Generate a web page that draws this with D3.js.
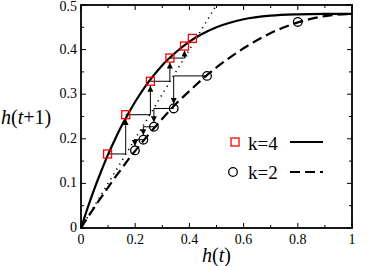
<!DOCTYPE html>
<html><head><meta charset="utf-8">
<script src="https://cdn.jsdelivr.net/npm/d3@7"></script>
<style>body{margin:0;background:#fff}svg{display:block}
text{font-family:"Liberation Serif","LiberationSerif","DejaVu Serif","DejaVuSerif",Times,"Noto Serif",serif;}</style>
</head><body>
<script>
// ---- data ----
const curveX = [0,0.025,0.05,0.075,0.1,0.125,0.15,0.175,0.2,0.25,0.3,0.35,0.4,0.45,0.5,0.6,0.7,0.8,0.9,1.0];
const k4Y   = [0,0.046,0.089,0.128,0.165,0.198,0.229,0.257,0.283,0.328,0.365,0.394,0.418,0.436,0.450,0.468,0.476,0.479,0.480,0.480];
const k2Y   = [0,0.024,0.047,0.069,0.091,0.113,0.133,0.154,0.173,0.210,0.245,0.278,0.307,0.335,0.360,0.403,0.437,0.461,0.475,0.480];
const diagX = [0,0.5];
const diagY = [0,0.5];
const sqX = [0.098,0.165,0.256,0.328,0.382,0.411];
const sqY = [0.166,0.254,0.329,0.381,0.408,0.425];
const ciX = [0.465,0.342,0.269,0.230,0.199];
const ciY = [0.341,0.268,0.227,0.198,0.174];
const ciExtraX = [0.80];
const ciExtraY = [0.462];
const xTicks = [0,0.2,0.4,0.6,0.8,1];
const xTickLabels = ["0","0.2","0.4","0.6","0.8","1"];
const yTicks = [0,0.1,0.2,0.3,0.4,0.5];
const yTickLabels = ["0","0.1","0.2","0.3","0.4","0.5"];
const legendLabels = ["k=4","k=2"];

const W=382,H=266;
const m={l:81,r:30,t:5,b:38};
const svg=d3.select("body").append("svg").attr("width",W).attr("height",H);
const x=d3.scaleLinear().domain([0,1]).range([m.l,W-m.r]);
const y=d3.scaleLinear().domain([0,0.5]).range([H-m.b,m.t]);

svg.append("defs").append("marker").attr("id","ah").attr("viewBox","0 0 10 10")
 .attr("refX",10).attr("refY",5).attr("markerWidth",6).attr("markerHeight",6)
 .attr("markerUnits","userSpaceOnUse").attr("orient","auto")
 .append("path").attr("d","M0,0L10,5L0,10z").attr("fill","#000");

const g=svg.append("g");
const xMinor=d3.range(0,1.0001,0.1), yMinor=d3.range(0,0.5001,0.05);
function isMajor(v,step){return Math.abs(v/step-Math.round(v/step))<1e-6;}
xMinor.forEach(v=>{const L=isMajor(v,0.2)?5:3;
 g.append("line").attr("x1",x(v)).attr("x2",x(v)).attr("y1",y(0)).attr("y2",y(0)-L).attr("stroke","#000");
 g.append("line").attr("x1",x(v)).attr("x2",x(v)).attr("y1",y(0.5)).attr("y2",y(0.5)+L).attr("stroke","#000");});
yMinor.forEach(v=>{const L=isMajor(v,0.1)?5:3;
 g.append("line").attr("y1",y(v)).attr("y2",y(v)).attr("x1",x(0)).attr("x2",x(0)+L).attr("stroke","#000");
 g.append("line").attr("y1",y(v)).attr("y2",y(v)).attr("x1",x(1)).attr("x2",x(1)-L).attr("stroke","#000");});

xTicks.forEach((v,i)=>g.append("text").attr("x",x(v)).attr("y",y(0)+16).attr("text-anchor","middle")
 .attr("font-size",14).text(xTickLabels[i]));
yTicks.forEach((v,i)=>g.append("text").attr("x",x(0)-4).attr("y",Math.max(y(v)+4,11)).attr("text-anchor","end")
 .attr("font-size",14).text(yTickLabels[i]));

const xt=svg.append("text").attr("x",(x(0)+x(1))/2).attr("y",262).attr("text-anchor","middle").attr("font-size",20);
xt.append("tspan").attr("font-style","italic").text("h");
xt.append("tspan").text("(");
xt.append("tspan").attr("font-style","italic").text("t");
xt.append("tspan").text(")");
const yt=svg.append("text").attr("x",1).attr("y",124).attr("text-anchor","start").attr("font-size",20);
yt.append("tspan").attr("font-style","italic").text("h");
yt.append("tspan").text("(");
yt.append("tspan").attr("font-style","italic").text("t");
yt.append("tspan").text("+1)");

const line=d3.line().x(d=>x(d[0])).y(d=>y(d[1])).curve(d3.curveMonotoneX);
g.append("path").attr("d",line(diagX.map((v,i)=>[v,diagY[i]]))).attr("fill","none")
 .attr("stroke","#000").attr("stroke-width",1.6).attr("stroke-dasharray","1.2,4.5");
g.append("path").attr("d",line(curveX.map((v,i)=>[v,k2Y[i]]))).attr("fill","none")
 .attr("stroke","#000").attr("stroke-width",2.2).attr("stroke-dasharray","10,5");
g.append("path").attr("d",line(curveX.map((v,i)=>[v,k4Y[i]]))).attr("fill","none")
 .attr("stroke","#000").attr("stroke-width",2.2);

function steps(X,Y,up){
 for(let i=0;i<X.length-1;i++){
  const dy=Math.abs(y(Y[i+1])-y(Y[i]));
  g.append("line").attr("x1",x(X[i])).attr("y1",y(Y[i])).attr("x2",x(X[i+1])).attr("y2",y(Y[i]))
   .attr("stroke","#000").attr("stroke-width",1);
  const off=Math.min(4.5,dy*0.4);
  g.append("line").attr("x1",x(X[i+1])).attr("y1",y(Y[i])).attr("x2",x(X[i+1]))
   .attr("y2",y(Y[i+1])+(up?off:-off)).attr("stroke","#000").attr("stroke-width",1).attr("marker-end","url(#ah)");
 }
}
steps(sqX.slice(0,5),sqY.slice(0,5),true);
steps(ciX,ciY,false);

g.selectAll(".sq").data(sqX).enter().append("rect")
 .attr("x",(d)=>x(d)-4).attr("y",(d,i)=>y(sqY[i])-4).attr("width",8).attr("height",8)
 .attr("fill","none").attr("stroke","#f00").attr("stroke-width",1.3);
const allCX=ciX.concat(ciExtraX), allCY=ciY.concat(ciExtraY);
g.selectAll(".ci").data(allCX).enter().append("circle")
 .attr("cx",d=>x(d)).attr("cy",(d,i)=>y(allCY[i])).attr("r",4.3)
 .attr("fill","none").attr("stroke","#000").attr("stroke-width",1.3);

g.append("rect").attr("x",x(0)).attr("y",y(0.5)).attr("width",x(1)-x(0)).attr("height",y(0)-y(0.5))
 .attr("fill","none").attr("stroke","#000").attr("stroke-width",1.8);

const lg=svg.append("g");
lg.append("rect").attr("x",231).attr("y",138).attr("width",8).attr("height",8)
 .attr("fill","none").attr("stroke","#f00").attr("stroke-width",1.3);
lg.append("text").attr("x",248).attr("y",149.5).attr("font-size",19).text(legendLabels[0]);
lg.append("line").attr("x1",290).attr("x2",323).attr("y1",142).attr("y2",142).attr("stroke","#000").attr("stroke-width",2.2);
lg.append("circle").attr("cx",233).attr("cy",172).attr("r",4.3).attr("fill","none").attr("stroke","#000").attr("stroke-width",1.3);
lg.append("text").attr("x",248).attr("y",179).attr("font-size",19).text(legendLabels[1]);
lg.append("line").attr("x1",290).attr("x2",323).attr("y1",172).attr("y2",172).attr("stroke","#000").attr("stroke-width",2.2).attr("stroke-dasharray","10,5");
</script>
</body></html>
